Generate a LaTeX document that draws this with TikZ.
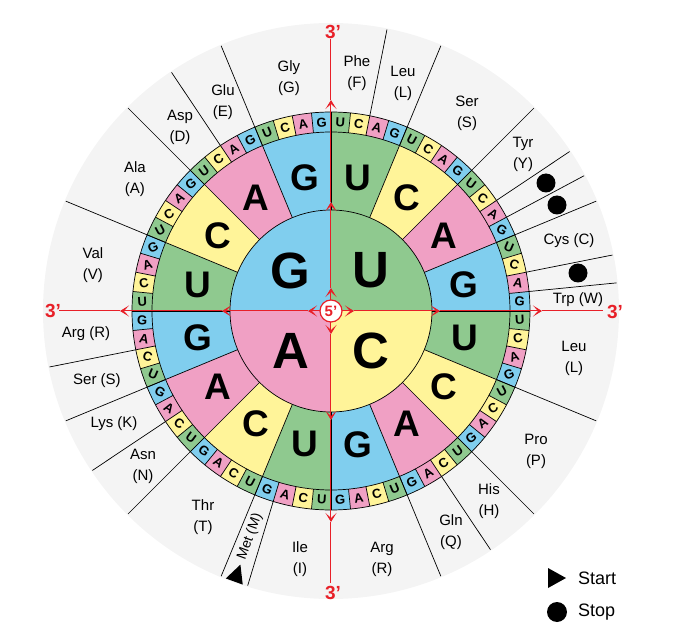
\documentclass[tikz,border=0pt]{standalone}
\usepackage{fontspec}
\setmainfont{Liberation Sans}
\usetikzlibrary{arrows.meta}
\definecolor{cU}{RGB}{143,201,143}
\definecolor{cC}{RGB}{255,244,153}
\definecolor{cA}{RGB}{240,160,196}
\definecolor{cG}{RGB}{128,206,238}
\definecolor{bgGrey}{RGB}{244,244,244}
\definecolor{redc}{RGB}{232,32,40}
\tikzset{
  edge/.style={black, line width=0.7pt},
  redl/.style={draw=redc, line width=1pt},
  redtip/.style={-{Stealth[length=9pt,width=11pt,inset=5pt,fill=redc]}},
  bigl/.style={font=\bfseries\fontsize{51}{51}\selectfont, inner sep=0},
  midl/.style={font=\bfseries\fontsize{37}{37}\selectfont, inner sep=0},
  smalll/.style={font=\bfseries\fontsize{13}{13}\selectfont, inner sep=0},
  aal/.style={font=\fontsize{15}{21}\selectfont, align=center, inner sep=0},
  primel/.style={text=redc, font=\bfseries\fontsize{19}{19}\selectfont, inner sep=0},
  legl/.style={font=\fontsize{18}{18}\selectfont, inner sep=0},
}
\begin{document}
\begin{tikzpicture}[x=1pt,y=1pt]
\useasboundingbox (-331,-321) rectangle (363,311);
\fill[bgGrey] (0,0) circle[radius=288pt];
% first base
\foreach \i in {0,...,3}{
  \pgfmathsetmacro\aa{90-\i*90}
  \pgfmathsetmacro\ab{\aa-90}
  \pgfmathsetmacro\am{\aa-45}
  \pgfmathtruncatemacro\k{mod(\i,4)}
  \edef\basech{\ifcase\k U\or C\or A\or G\fi}
  \fill[c\basech] (0,0) -- (\aa:101pt) arc[start angle=\aa,end angle=\ab,radius=101pt] -- cycle;
  \node[bigl] (bA\i) at (\am:57pt) {\basech};
}
% second base
\foreach \i in {0,...,15}{
  \pgfmathsetmacro\aa{90-\i*22.5}
  \pgfmathsetmacro\ab{\aa-22.5}
  \pgfmathsetmacro\am{\aa-11.25}
  \pgfmathtruncatemacro\k{mod(\i,4)}
  \edef\basech{\ifcase\k U\or C\or A\or G\fi}
  \fill[c\basech] (\aa:101pt) arc[start angle=\aa,end angle=\ab,radius=101pt] -- (\ab:179pt) arc[start angle=\ab,end angle=\aa,radius=179pt] -- cycle;
  \node[midl] (bB\i) at (\am:136pt) {\basech};
}
% third base
\foreach \i in {0,...,63}{
  \pgfmathsetmacro\aa{90-\i*5.625}
  \pgfmathsetmacro\ab{\aa-5.625}
  \pgfmathsetmacro\am{\aa-2.8125}
  \pgfmathsetmacro\rot{-36*sin(2*\am)}
  \pgfmathtruncatemacro\k{mod(\i,4)}
  \edef\basech{\ifcase\k U\or C\or A\or G\fi}
  \fill[c\basech] (\aa:179pt) arc[start angle=\aa,end angle=\ab,radius=179pt] -- (\ab:199pt) arc[start angle=\ab,end angle=\aa,radius=199pt] -- cycle;
  \node[smalll, rotate=\rot] (bC\i) at (\am:189pt) {\basech};
}
% outlines
\draw[edge] (0,0) circle[radius=101pt];
\draw[edge] (0,0) circle[radius=179pt];
\draw[edge] (0,0) circle[radius=199pt];
\foreach \i in {0,...,15}{\draw[edge] ({90-\i*22.5}:101pt) -- ({90-\i*22.5}:199pt);}
\foreach \i in {0,...,63}{\draw[edge] ({90-\i*5.625}:179pt) -- ({90-\i*5.625}:199pt);}
\foreach \a in {78.75,67.5,45,33.75,28.125,22.5,11.25,5.625,-22.5,-45,-56.25,-67.5,-106.875,-112.5,-135,-146.25,-157.5,-168.75,157.5,135,123.75,112.5}{
  \draw[edge] (\a:199pt) -- (\a:287pt);
}
% red axes
\foreach \d in {90,0,-90,180}{
  \draw[redl,redtip] (\d:10pt) -- (\d:23pt);
  \draw[redl,redtip] (\d:23pt) -- (\d:109pt);
  \draw[redl,redtip] (\d:109pt) -- (\d:211pt);
  \draw[redl] (\d:211pt) -- (\d:272pt);
}
\node[circle, draw=redc, fill=white, line width=1.2pt, minimum size=22pt, inner sep=0, text=redc, font=\bfseries\fontsize{15}{15}\selectfont] (five) at (0,0) {5’};
\node[primel] (p3top) at (2,279) {3’};
\node[primel] (p3right) at (284,-1) {3’};
\node[primel] (p3bot) at (2,-282) {3’};
\node[primel] (p3left) at (-278,0) {3’};
% amino acids
\node[aal] (gly) at (-42,233) {Gly\\(G)};
\node[aal] (phe) at (26,238) {Phe\\(F)};
\node[aal] (leu1) at (72,228) {Leu\\(L)};
\node[aal] (ser1) at (136,198) {Ser\\(S)};
\node[aal] (tyr) at (192,157) {Tyr\\(Y)};
\node[aal] (cys) at (238,70) {Cys (C)};
\node[aal] (trp) at (247,11) {Trp (W)};
\node[aal] (leu2) at (243,-47) {Leu\\(L)};
\node[aal] (pro) at (205,-140) {Pro\\(P)};
\node[aal] (his) at (158,-190) {His\\(H)};
\node[aal] (gln) at (120,-221) {Gln\\(Q)};
\node[aal] (arg1) at (51,-248) {Arg\\(R)};
\node[aal] (ile) at (-31,-248) {Ile\\(I)};
\node[font=\fontsize{14}{14}\selectfont, inner sep=0, rotate=70] (met) at (-81,-226) {Met (M)};
\node[aal] (thr) at (-128,-206) {Thr\\(T)};
\node[aal] (asn) at (-188,-155) {Asn\\(N)};
\node[aal] (lys) at (-217,-113) {Lys (K)};
\node[aal] (ser2) at (-234,-70) {Ser (S)};
\node[aal] (arg2) at (-245,-23) {Arg (R)};
\node[aal] (val) at (-238,46) {Val\\(V)};
\node[aal] (ala) at (-196,132) {Ala\\(A)};
\node[aal] (asp) at (-151,184) {Asp\\(D)};
\node[aal] (glu) at (-108,209) {Glu\\(E)};
% stop and start marks
\fill (215,128) circle[radius=9.5pt];
\fill (226,106) circle[radius=9.5pt];
\fill (247,38) circle[radius=9.5pt];
\fill[rotate around={70:(-94,-263)}] (-102,-272) -- (-84,-263) -- (-102,-254) -- cycle;
% legend
\fill (217,-257) -- (235,-267) -- (217,-277) -- cycle;
\node[legl, anchor=west] (start) at (247,-267) {Start};
\fill (226,-301) circle[radius=10pt];
\node[legl, anchor=west] (stop) at (247,-301) {Stop};
\end{tikzpicture}
\end{document}
